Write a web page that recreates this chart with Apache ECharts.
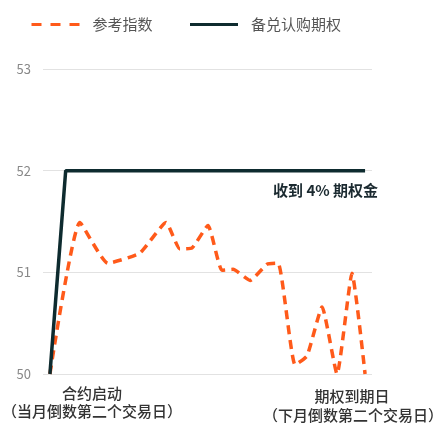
<!DOCTYPE html>
<html><head><meta charset="utf-8">
<script src="https://cdn.jsdelivr.net/npm/echarts@6/dist/echarts.min.js"></script>
<style>html,body{margin:0;padding:0;background:#fff}#c{width:434px;height:423px}</style>
</head><body><div id="c"></div>
<script>
// Data (x in trading days from contract start, y index level)
var indexX = [0, 1.9, 3.68, 5.71, 7.37, 8.25, 9.02, 10.03, 10.92, 11.62, 12.7, 13.78, 14.48, 15.56, 16.32, 17.27, 18.22, 19.17, 20];
var indexY = [50.0, 51.49, 51.09, 51.19, 51.49, 51.23, 51.24, 51.46, 51.02, 51.03, 50.92, 51.08, 51.09, 50.09, 50.18, 50.66, 50.0, 50.99, 50.0];
var callX = [0, 1.0, 20];
var callY = [50.0, 52.0, 52.0];
var seriesNames = ['参考指数', '备兑认购期权'];
var yTicks = [50, 51, 52, 53];
var startLabel = ['合约启动', '（当月倒数第二个交易日）'];
var endLabel = ['期权到期日', '（下月倒数第二个交易日）'];
var annotation = '收到 4% 期权金';

function pairs(xs, ys){ return xs.map(function(x,i){ return [x, ys[i]]; }); }
var FONT = '"Noto Sans CJK SC", "Noto Sans", sans-serif';
var chart = echarts.init(document.getElementById('c'));
chart.setOption({
  animation: false,
  textStyle: {fontFamily: FONT},
  legend: {
    left: 25, top: 12, itemWidth: 48, itemHeight: 14, itemGap: 36,
    itemStyle: {opacity: 0},
    textStyle: {fontSize: 15, color: '#555', fontFamily: FONT, padding: [0,0,0,8]},
    data: [
      {name: seriesNames[0], lineStyle: {type: [10, 9], width: 3}},
      {name: seriesNames[1], lineStyle: {width: 3}}
    ]
  },
  grid: {left: 43, right: 62, top: 69, bottom: 49},
  xAxis: {
    type: 'value', min: -0.44, max: 20.44,
    axisLine: {show: false}, axisTick: {show: false}, axisLabel: {show: false}, splitLine: {show: false}
  },
  yAxis: {
    type: 'value', min: yTicks[0], max: yTicks[yTicks.length-1], interval: 1,
    axisLine: {show: false}, axisTick: {show: false},
    axisLabel: {color: '#888', fontSize: 13, margin: 12, fontFamily: FONT},
    splitLine: {lineStyle: {color: '#e2e2e2', width: 1}}
  },
  series: [
    {
      name: seriesNames[0], type: 'line', data: pairs(indexX, indexY),
      symbol: 'none', smooth: 0.15,
      lineStyle: {color: '#ff5a1a', width: 3.5, type: [9, 6]},
      itemStyle: {color: '#ff5a1a'}, z: 2
    },
    {
      name: seriesNames[1], type: 'line', data: pairs(callX, callY),
      symbol: 'none',
      lineStyle: {color: '#0e2b2f', width: 3.5},
      itemStyle: {color: '#0e2b2f'}, z: 3
    }
  ],
  graphic: [
    {type: 'text', left: 273, top: 183, style: {text: annotation, font: 'bold 15px ' + FONT, fill: '#1b2a30'}},
    {type: 'text', style: {text: startLabel[0], x: 92, y: 386, textAlign: 'center', font: '500 15px ' + FONT, fill: '#333'}},
    {type: 'text', style: {text: startLabel[1], x: 92, y: 404, textAlign: 'center', font: '500 15px ' + FONT, fill: '#333'}},
    {type: 'text', style: {text: endLabel[0], x: 352, y: 389, textAlign: 'center', font: '500 15px ' + FONT, fill: '#333'}},
    {type: 'text', style: {text: endLabel[1], x: 353, y: 408, textAlign: 'center', font: '500 15px ' + FONT, fill: '#333'}}
  ]
});
</script></body></html>
